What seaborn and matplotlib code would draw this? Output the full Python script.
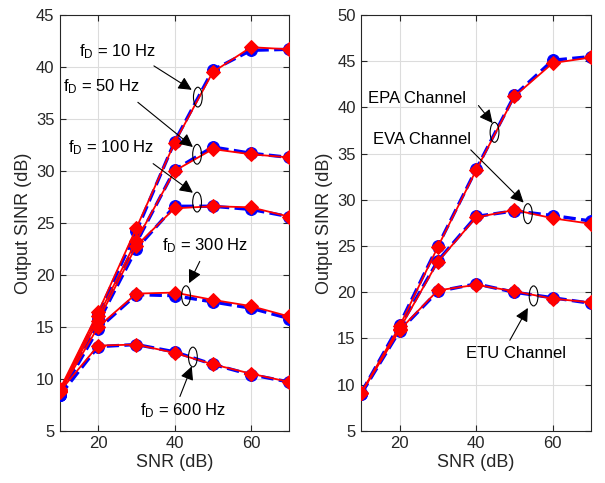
import matplotlib
matplotlib.use("Agg")
import matplotlib.pyplot as plt
from matplotlib.patches import Ellipse
import seaborn as sns
import pandas as pd

sns.set_style("whitegrid")
plt.rcParams['font.family'] = ['Liberation Sans', 'DejaVu Sans']
plt.rcParams['mathtext.fontset'] = 'custom'
plt.rcParams['mathtext.rm'] = 'Liberation Sans'
plt.rcParams['mathtext.it'] = 'Liberation Sans:italic'

snr = [10, 20, 30, 40, 50, 60, 70]

# Left panel: Doppler frequencies
fd10_red = [9.0, 16.4, 24.5, 32.7, 39.5, 41.9, 41.7]
fd10_blue = [8.6, 16.2, 24.2, 32.8, 39.7, 41.6, 41.7]
fd50_red = [8.9, 16.0, 23.3, 30.0, 32.1, 31.6, 31.3]
fd50_blue = [8.5, 15.8, 23.1, 30.1, 32.3, 31.7, 31.3]
fd100_red = [8.8, 15.6, 22.8, 26.4, 26.6, 26.5, 25.6]
fd100_blue = [8.4, 15.4, 22.5, 26.6, 26.6, 26.3, 25.6]
fd300_red = [8.7, 15.0, 18.2, 18.3, 17.6, 17.0, 16.0]
fd300_blue = [8.4, 14.8, 18.1, 18.0, 17.4, 16.8, 15.8]
fd600_red = [8.8, 13.2, 13.3, 12.5, 11.4, 10.5, 9.7]
fd600_blue = [8.4, 13.1, 13.3, 12.6, 11.4, 10.4, 9.7]

# Right panel: channel models
epa_red = [9.1, 16.3, 24.9, 33.2, 41.2, 44.8, 45.4]
epa_blue = [9.1, 16.5, 25.0, 33.3, 41.3, 45.1, 45.5]
eva_red = [9.1, 16.0, 23.3, 28.1, 28.9, 28.0, 27.4]
eva_blue = [9.0, 16.2, 23.4, 28.2, 28.8, 28.3, 27.7]
etu_red = [9.1, 15.9, 20.2, 20.8, 20.1, 19.3, 18.9]
etu_blue = [9.0, 15.8, 20.1, 20.9, 20.0, 19.4, 18.8]

left_series = [(fd10_blue, fd10_red), (fd50_blue, fd50_red), (fd100_blue, fd100_red),
               (fd300_blue, fd300_red), (fd600_blue, fd600_red)]
right_series = [(epa_blue, epa_red), (eva_blue, eva_red), (etu_blue, etu_red)]

# annotations: (label, text pos, arrow start, arrow end, ellipse center)
left_notes = [
    (r"f$_\mathrm{D}$ = 10 Hz", (15.0, 41.0), (34.6, 40.1), (44.5, 37.8), (46.1, 37.1)),
    (r"f$_\mathrm{D}$ = 50 Hz", (10.9, 37.7), (30.4, 36.6), (44.8, 32.3), (45.9, 31.6)),
    (r"f$_\mathrm{D}$ = 100 Hz", (12.2, 31.8), (34.4, 30.7), (44.8, 27.9), (45.9, 27.0)),
    (r"f$_\mathrm{D}$ = 300 Hz", (36.7, 22.4), (46.6, 21.3), (43.8, 19.2), (43.0, 18.0)),
    (r"f$_\mathrm{D}$ = 600 Hz", (31.0, 6.5), (41.4, 8.3), (44.5, 11.2), (44.8, 12.1)),
]
right_notes = [
    ("EPA Channel", (11.9, 40.5), (40.6, 40.2), (44.3, 38.3), (44.8, 37.3)),
    ("EVA Channel", (13.2, 36.0), (38.6, 35.4), (52.4, 29.7), (53.5, 28.5)),
    ("ETU Channel", (37.3, 12.85), (48.8, 14.8), (53.5, 18.3), (55.0, 19.6)),
]

fig = plt.figure(figsize=(6.05, 4.83), dpi=100)
ax1 = fig.add_axes([0.099, 0.108, 0.379, 0.861])
ax2 = fig.add_axes([0.597, 0.108, 0.380, 0.861])

tc = '#262626'

def draw(ax, series, notes, ylim, yticks, ell_h):
    for blue, red in series:
        df = pd.DataFrame({'snr': snr, 'b': blue, 'r': red})
        sns.lineplot(data=df, x='snr', y='b', ax=ax, color='blue', linestyle='--',
                     lw=2.4, marker='o', markersize=8.5, markeredgecolor='blue',
                     markerfacecolor='blue', zorder=3, dashes=(3.5, 1.6))
        sns.lineplot(data=df, x='snr', y='r', ax=ax, color='red', linestyle='-',
                     lw=1.3, marker='D', markersize=7.5, markeredgecolor='red',
                     markerfacecolor='red', zorder=4)
    for label, tpos, a0, a1, ec in notes:
        ax.text(tpos[0], tpos[1], label, fontsize=12, color='k', ha='left',
                va='baseline', zorder=6)
        ax.annotate('', xy=a1, xytext=a0,
                    arrowprops=dict(arrowstyle='-|>', color='k', lw=0.8,
                                    mutation_scale=20, shrinkA=0, shrinkB=0),
                    zorder=6)
        ax.add_patch(Ellipse(ec, 2.3, ell_h, fill=False, ec='k', lw=0.8, zorder=6))
    ax.set_xlim(10, 70)
    ax.set_ylim(*ylim)
    ax.set_xticks([20, 40, 60])
    ax.set_yticks(yticks)
    ax.set_xlabel('SNR (dB)', fontsize=13, color=tc, labelpad=2)
    ax.set_ylabel('Output SINR (dB)', fontsize=13, color=tc, labelpad=3)
    ax.tick_params(direction='in', length=4, colors=tc, labelsize=12,
                   top=True, right=True, bottom=True, left=True, pad=4)
    ax.grid(True, color='#dcdcdc', lw=0.8)
    for s in ax.spines.values():
        s.set_visible(True)
        s.set_color(tc)
        s.set_linewidth(0.8)
    ax.set_facecolor('white')

draw(ax1, left_series, left_notes, (5, 45), list(range(5, 46, 5)), 1.9)
draw(ax2, right_series, right_notes, (5, 50), list(range(5, 51, 5)), 2.16)

fig.savefig('out.png', dpi=100, facecolor='white')
